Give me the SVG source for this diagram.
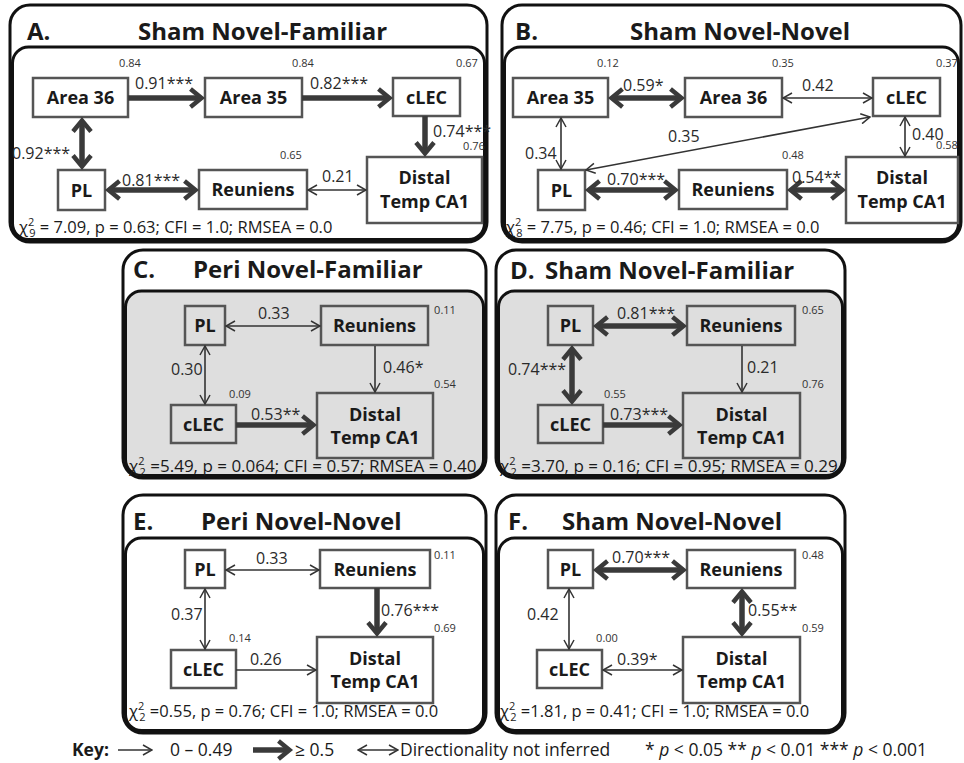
<svg xmlns="http://www.w3.org/2000/svg" width="964" height="763" viewBox="0 0 964 763">
<defs>
<marker id="mt" viewBox="0 -6 11 12" refX="10" refY="0" markerWidth="11" markerHeight="12" markerUnits="userSpaceOnUse" orient="auto-start-reverse"><path d="M1,-5 L10,0 L1,5" fill="none" stroke="#333" stroke-width="1.5"/></marker>
<marker id="mT" viewBox="-2 -12 20 24" refX="11.5" refY="0" markerWidth="20" markerHeight="24" markerUnits="userSpaceOnUse" orient="auto-start-reverse"><path d="M1,-9 L12,0 L1,9" fill="none" stroke="#3a3a3a" stroke-width="4.5"/></marker>
<style>
.po{fill:#fff;stroke:#111;stroke-width:3}
.pi{fill:#fff;stroke:#111;stroke-width:3}
.pg{fill:#dedede;stroke:#111;stroke-width:3}
.nd{fill:none;stroke:#555;stroke-width:2.5}
.t{font-family:"Open Sans","DejaVu Sans",sans-serif;fill:#1a1a1a}
.ttl{font-size:24px;font-weight:700}
.nl{font-size:18px;font-weight:700;text-anchor:middle}
.lb{font-size:16px;fill:#2a2a2a}
.r2{font-size:11px;text-anchor:middle;fill:#333}
.chi{font-size:16.5px}
.chi2{font-size:17px}
.ss{font-size:11px}
.key{font-size:17.5px}
.thin{stroke:#333;stroke-width:1.6;fill:none}
.thick{stroke:#3a3a3a;stroke-width:5.5;fill:none}
.e1{marker-end:url(#mt)}
.e2{marker-start:url(#mt);marker-end:url(#mt)}
.E1{marker-end:url(#mT)}
.E2{marker-start:url(#mT);marker-end:url(#mT)}
</style>
</defs>
<rect x="0" y="0" width="964" height="763" fill="#fff"/>

<!-- Panel frames -->
<g id="panel-A">
<rect class="po" x="10" y="5" width="477" height="237" rx="20"/>
<rect class="pi" x="12.5" y="47" width="472" height="192.5" rx="16"/>
<text class="t ttl" x="27" y="40">A.</text>
<text class="t ttl" x="138" y="40">Sham Novel-Familiar</text>
<text class="t chi" x="19" y="233">χ<tspan class="ss" dy="-7">2</tspan><tspan class="ss" dx="-5" dy="11">9</tspan><tspan dy="-4"> = 7.09, p = 0.63; CFI = 1.0; RMSEA = 0.0</tspan></text>
</g>
<g id="panel-B">
<rect class="po" x="502" y="5" width="459" height="237" rx="20"/>
<rect class="pi" x="504.5" y="47" width="454" height="192.5" rx="16"/>
<text class="t ttl" x="515" y="40">B.</text>
<text class="t ttl" x="630" y="40">Sham Novel-Novel</text>
<text class="t chi" x="506" y="233">χ<tspan class="ss" dy="-7">2</tspan><tspan class="ss" dx="-5" dy="11">8</tspan><tspan dy="-4"> = 7.75, p = 0.46; CFI = 1.0; RMSEA = 0.0</tspan></text>
</g>
<g id="panel-C">
<rect class="po" x="123" y="250" width="363" height="228" rx="20"/>
<rect class="pg" x="125.5" y="291" width="358" height="184.5" rx="16"/>
<text class="t ttl" x="133" y="278">C.</text>
<text class="t ttl" x="193" y="278">Peri Novel-Familiar</text>
<text class="t chi2" x="129" y="472">χ<tspan class="ss" dy="-7">2</tspan><tspan class="ss" dx="-5" dy="11">2</tspan><tspan dy="-4"> =5.49, p = 0.064; CFI = 0.57; RMSEA = 0.40</tspan></text>
</g>
<g id="panel-D">
<rect class="po" x="496" y="250" width="349" height="228" rx="20"/>
<rect class="pg" x="498.5" y="291" width="344" height="184.5" rx="16"/>
<text class="t ttl" x="510" y="279">D.</text>
<text class="t ttl" x="545" y="279">Sham Novel-Familiar</text>
<text class="t chi2" x="500" y="472">χ<tspan class="ss" dy="-7">2</tspan><tspan class="ss" dx="-5" dy="11">2</tspan><tspan dy="-4"> =3.70, p = 0.16; CFI = 0.95; RMSEA = 0.29</tspan></text>
</g>
<g id="panel-E">
<rect class="po" x="123" y="495" width="363" height="238" rx="20"/>
<rect class="pi" x="125.5" y="538" width="358" height="192.5" rx="16"/>
<text class="t ttl" x="133" y="530">E.</text>
<text class="t ttl" x="201" y="530">Peri Novel-Novel</text>
<text class="t chi" x="129" y="717">χ<tspan class="ss" dy="-7">2</tspan><tspan class="ss" dx="-5" dy="11">2</tspan><tspan dy="-4"> =0.55, p = 0.76; CFI = 1.0; RMSEA = 0.0</tspan></text>
</g>
<g id="panel-F">
<rect class="po" x="496" y="495" width="349" height="238" rx="20"/>
<rect class="pi" x="498.5" y="538" width="344" height="192.5" rx="16"/>
<text class="t ttl" x="508" y="530">F.</text>
<text class="t ttl" x="562" y="530">Sham Novel-Novel</text>
<text class="t chi" x="500" y="717">χ<tspan class="ss" dy="-7">2</tspan><tspan class="ss" dx="-5" dy="11">2</tspan><tspan dy="-4"> =1.81, p = 0.41; CFI = 1.0; RMSEA = 0.0</tspan></text>
</g>

<!-- Nodes -->
<g id="A-area36"><rect class="nd" x="33" y="78" width="95" height="39"/><text class="t nl" x="80.5" y="104">Area 36</text><text class="t r2" x="130" y="67">0.84</text></g>
<g id="A-area35"><rect class="nd" x="205" y="78" width="97" height="39"/><text class="t nl" x="253.5" y="104">Area 35</text><text class="t r2" x="303" y="67">0.84</text></g>
<g id="A-clec"><rect class="nd" x="393" y="78" width="67" height="38"/><text class="t nl" x="426.5" y="103.5">cLEC</text><text class="t r2" x="467" y="67">0.67</text></g>
<g id="A-pl"><rect class="nd" x="58" y="170" width="47" height="40"/><text class="t nl" x="81.5" y="196.5">PL</text></g>
<g id="A-reuniens"><rect class="nd" x="199" y="170" width="108" height="39"/><text class="t nl" x="253" y="196">Reuniens</text><text class="t r2" x="291" y="159">0.65</text></g>
<g id="A-distal"><rect class="nd" x="367" y="157" width="115" height="66"/><text class="t nl" x="424.5" y="184">Distal</text><text class="t nl" x="424.5" y="208">Temp CA1</text><text class="t r2" x="474" y="150">0.76</text></g>

<g id="B-area35"><rect class="nd" x="513" y="78" width="95" height="39"/><text class="t nl" x="560.5" y="104">Area 35</text><text class="t r2" x="608" y="67">0.12</text></g>
<g id="B-area36"><rect class="nd" x="685" y="78" width="97" height="39"/><text class="t nl" x="733.5" y="104">Area 36</text><text class="t r2" x="783" y="67">0.35</text></g>
<g id="B-clec"><rect class="nd" x="873" y="78" width="67" height="38"/><text class="t nl" x="906.5" y="103.5">cLEC</text><text class="t r2" x="947" y="67">0.37</text></g>
<g id="B-pl"><rect class="nd" x="538" y="170" width="47" height="40"/><text class="t nl" x="561.5" y="196.5">PL</text></g>
<g id="B-reuniens"><rect class="nd" x="679" y="170" width="108" height="39"/><text class="t nl" x="733" y="196">Reuniens</text><text class="t r2" x="793" y="159">0.48</text></g>
<g id="B-distal"><rect class="nd" x="846" y="157" width="112" height="66"/><text class="t nl" x="902" y="184">Distal</text><text class="t nl" x="902" y="208">Temp CA1</text><text class="t r2" x="947" y="149">0.58</text></g>

<g id="C-pl"><rect class="nd" x="185" y="306" width="40" height="39"/><text class="t nl" x="205" y="332">PL</text></g>
<g id="C-reuniens"><rect class="nd" x="321" y="306" width="107" height="39"/><text class="t nl" x="374.5" y="332">Reuniens</text><text class="t r2" x="445" y="314">0.11</text></g>
<g id="C-clec"><rect class="nd" x="171" y="405" width="65" height="38"/><text class="t nl" x="203.5" y="430.5">cLEC</text><text class="t r2" x="240" y="398">0.09</text></g>
<g id="C-distal"><rect class="nd" x="317" y="393" width="116" height="65"/><text class="t nl" x="375" y="420.5">Distal</text><text class="t nl" x="375" y="444">Temp CA1</text><text class="t r2" x="445" y="388">0.54</text></g>

<g id="D-pl"><rect class="nd" x="548" y="306" width="45" height="39"/><text class="t nl" x="570.5" y="332">PL</text></g>
<g id="D-reuniens"><rect class="nd" x="687" y="306" width="108" height="39"/><text class="t nl" x="741" y="332">Reuniens</text><text class="t r2" x="813" y="314">0.65</text></g>
<g id="D-clec"><rect class="nd" x="538" y="405" width="65" height="38"/><text class="t nl" x="570.5" y="430.5">cLEC</text><text class="t r2" x="615" y="398">0.55</text></g>
<g id="D-distal"><rect class="nd" x="683" y="393" width="117" height="65"/><text class="t nl" x="741.5" y="420.5">Distal</text><text class="t nl" x="741.5" y="444">Temp CA1</text><text class="t r2" x="813" y="388">0.76</text></g>

<g id="E-pl"><rect class="nd" x="185" y="550" width="40" height="38"/><text class="t nl" x="205" y="575.5">PL</text></g>
<g id="E-reuniens"><rect class="nd" x="320" y="550" width="110" height="38"/><text class="t nl" x="375" y="575.5">Reuniens</text><text class="t r2" x="445" y="559">0.11</text></g>
<g id="E-clec"><rect class="nd" x="171" y="650" width="65" height="38"/><text class="t nl" x="203.5" y="675.5">cLEC</text><text class="t r2" x="240" y="642">0.14</text></g>
<g id="E-distal"><rect class="nd" x="317" y="637" width="116" height="66"/><text class="t nl" x="375" y="664.5">Distal</text><text class="t nl" x="375" y="688">Temp CA1</text><text class="t r2" x="445" y="632">0.69</text></g>

<g id="F-pl"><rect class="nd" x="548" y="550" width="45" height="38"/><text class="t nl" x="570.5" y="575.5">PL</text></g>
<g id="F-reuniens"><rect class="nd" x="687" y="550" width="108" height="38"/><text class="t nl" x="741" y="575.5">Reuniens</text><text class="t r2" x="813" y="559">0.48</text></g>
<g id="F-clec"><rect class="nd" x="537" y="650" width="65" height="38"/><text class="t nl" x="569.5" y="675.5">cLEC</text><text class="t r2" x="607" y="642">0.00</text></g>
<g id="F-distal"><rect class="nd" x="683" y="637" width="117" height="66"/><text class="t nl" x="741.5" y="664.5">Distal</text><text class="t nl" x="741.5" y="688">Temp CA1</text><text class="t r2" x="813" y="632">0.59</text></g>

<!-- Connectors -->
<g id="connectors">
<g id="conn-A">
<path class="thick E1" d="M128,98 H201"/>
<path class="thick E1" d="M302,98 H389"/>
<path class="thick E1" d="M425,116 V153"/>
<path class="thick E2" d="M82,121 V166"/>
<path class="thick E2" d="M109,190 H195"/>
<path class="thin e2" d="M308,190 H366"/>
<text class="t lb" x="135" y="89">0.91***</text>
<text class="t lb" x="310" y="89">0.82***</text>
<text class="t lb" x="433" y="137">0.74***</text>
<text class="t lb" x="12" y="159">0.92***</text>
<text class="t lb" x="122" y="186">0.81***</text>
<text class="t lb" x="322" y="182">0.21</text>
</g>
<g id="conn-B">
<path class="thick E2" d="M612,98 H681"/>
<path class="thin e2" d="M783,98 H872"/>
<path class="thin e2" d="M561,118 V169"/>
<path class="thin e2" d="M870,117 L586,170"/>
<path class="thin e2" d="M905,117 V156"/>
<path class="thick E2" d="M589,190 H675"/>
<path class="thick E2" d="M791,190 H842"/>
<text class="t lb" x="623" y="91">0.59*</text>
<text class="t lb" x="802" y="91">0.42</text>
<text class="t lb" x="525" y="159">0.34</text>
<text class="t lb" x="668" y="142">0.35</text>
<text class="t lb" x="912" y="140">0.40</text>
<text class="t lb" x="607" y="185">0.70***</text>
<text class="t lb" x="792" y="183">0.54**</text>
</g>
<g id="conn-C">
<path class="thin e2" d="M226,326 H320"/>
<path class="thin e2" d="M205,346 V404"/>
<path class="thin e1" d="M375,346 V392"/>
<path class="thick E1" d="M236,425 H313"/>
<text class="t lb" x="258" y="319">0.33</text>
<text class="t lb" x="171" y="375">0.30</text>
<text class="t lb" x="383" y="373">0.46*</text>
<text class="t lb" x="251" y="420">0.53**</text>
</g>
<g id="conn-D">
<path class="thick E2" d="M597,326 H683"/>
<path class="thick E2" d="M572,349 V401"/>
<path class="thin e1" d="M742,346 V392"/>
<path class="thick E1" d="M603,425 H679"/>
<text class="t lb" x="617" y="319">0.81***</text>
<text class="t lb" x="508" y="375">0.74***</text>
<text class="t lb" x="747" y="373">0.21</text>
<text class="t lb" x="610" y="420">0.73***</text>
</g>
<g id="conn-E">
<path class="thin e2" d="M226,570 H319"/>
<path class="thin e2" d="M205,589 V649"/>
<path class="thick E1" d="M377,588 V633"/>
<path class="thin e1" d="M236,670 H316"/>
<text class="t lb" x="256" y="564">0.33</text>
<text class="t lb" x="171" y="620">0.37</text>
<text class="t lb" x="381" y="616">0.76***</text>
<text class="t lb" x="250" y="665">0.26</text>
</g>
<g id="conn-F">
<path class="thick E2" d="M597,570 H683"/>
<path class="thin e2" d="M569,589 V649"/>
<path class="thick E2" d="M742,592 V633"/>
<path class="thin e2" d="M603,670 H682"/>
<text class="t lb" x="612" y="563">0.70***</text>
<text class="t lb" x="527" y="620">0.42</text>
<text class="t lb" x="748" y="616">0.55**</text>
<text class="t lb" x="617" y="665">0.39*</text>
</g>
</g>

<!-- Key -->
<g id="key">
<text class="t key" x="72" y="756" font-weight="700">Key:</text>
<path class="thin e1" d="M118,750 H152"/>
<text class="t key" x="170" y="756">0 – 0.49</text>
<path class="thick E1" d="M253,750 H289"/>
<text class="t key" x="295" y="756">≥ 0.5</text>
<path class="thin e2" d="M358,750 H398"/>
<text class="t key" x="400" y="756">Directionality not inferred</text>
<text class="t key" x="645" y="756">* <tspan font-style="italic">p</tspan> &lt; 0.05 ** <tspan font-style="italic">p</tspan> &lt; 0.01 *** <tspan font-style="italic">p</tspan> &lt; 0.001</text>
</g>
</svg>
